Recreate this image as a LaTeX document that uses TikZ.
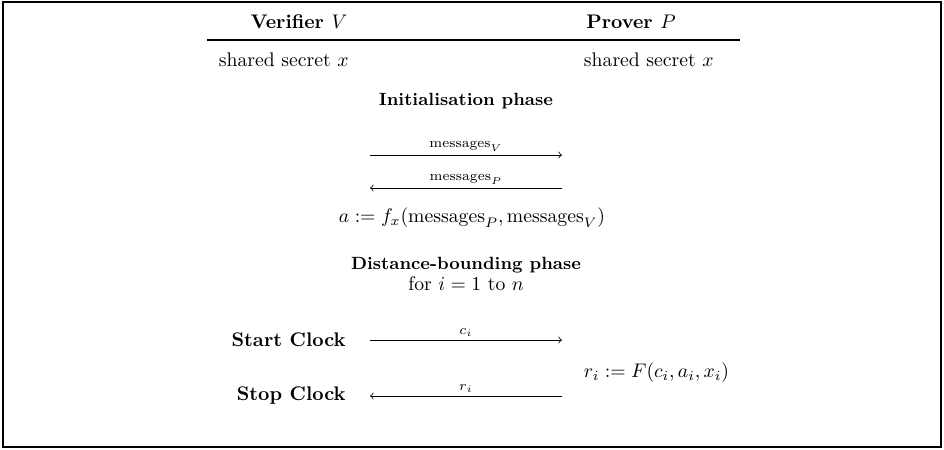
\documentclass[tikz,border=0pt]{standalone}
\usepackage{amsmath}
\usetikzlibrary{positioning}

\tikzset{
  party/.style={font=\bfseries, inner sep=1pt},
  phase/.style={font=\small\bfseries, inner sep=1pt},
  clock/.style={font=\bfseries, inner sep=1pt},
  msg/.style={thin},
  msglabel/.style={above, font=\scriptsize, inner sep=1.5pt},
  frame/.style={line width=0.9pt},
  headrule/.style={line width=0.8pt}
}

\begin{document}
\begin{tikzpicture}[x=0.508pt, y=-0.508pt]
  \useasboundingbox (0,0) rectangle (944,450);

  % outer box
  \draw[frame] (3,2) rectangle (941,447);

  % the two parties and their common key
  \node[party] (ver) at (299,22) {Verifier $V$};
  \node[party] (prv) at (631,22) {Prover $P$};
  \coordinate (ruleL) at (207,40);
  \coordinate (ruleR) at (740,40);
  \draw[headrule] (ruleL) -- (ruleR);
  \node[anchor=west] (secV) at (212,60) {shared secret $x$};
  \node[anchor=west] (secP) at (577,60) {shared secret $x$};

  % first phase: exchange of messages
  \node[phase] (init) at (466,101) {Initialisation phase};
  \coordinate (mvL) at (370,155);
  \coordinate (mvR) at (562,155);
  \coordinate (mpL) at (370,188);
  \coordinate (mpR) at (562,188);
  \draw[msg,->] (mvL) -- node[msglabel] {$\text{messages}_V$} (mvR);
  \draw[msg,->] (mpR) -- node[msglabel] {$\text{messages}_P$} (mpL);
  \node (akey) at (472,218) {$a := f_x(\text{messages}_P, \text{messages}_V)$};

  % second phase: timed rounds
  \node[phase] (dist) at (466,265) {Distance-bounding phase};
  \node (loop) at (466,284) {for $i = 1$ to $n$};
  \node[clock, anchor=east] (start) at (348,340) {Start Clock};
  \node[clock, anchor=east] (stop) at (348,396) {Stop Clock};
  \coordinate (chL) at (370,340);
  \coordinate (chR) at (562,340);
  \coordinate (rsL) at (370,396);
  \coordinate (rsR) at (562,396);
  \draw[msg,->] (chL) -- node[msglabel] {$c_i$} (chR);
  \draw[msg,->] (rsR) -- node[msglabel] {$r_i$} (rsL);
  \node[anchor=west] (resp) at (577,373) {$r_i := F(c_i, a_i, x_i)$};
\end{tikzpicture}
\end{document}
